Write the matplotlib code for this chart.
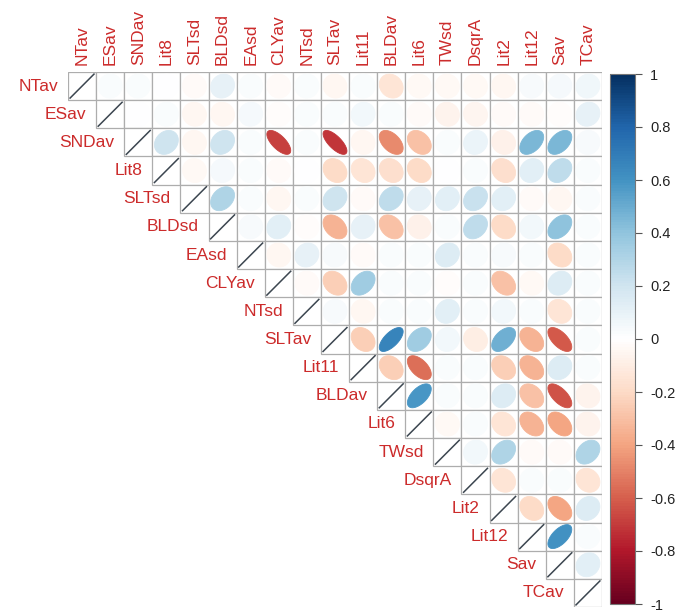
import numpy as np
import matplotlib
matplotlib.use("Agg")
import matplotlib.pyplot as plt
from matplotlib.colors import LinearSegmentedColormap, Normalize
from matplotlib.patches import Polygon
from matplotlib.cm import ScalarMappable

variables = ["NTav", "ESav", "SNDav", "Lit8", "SLTsd", "BLDsd", "EAsd", "CLYav", "NTsd",
             "SLTav", "Lit11", "BLDav", "Lit6", "TWsd", "DsqrA", "Lit2", "Lit12", "Sav", "TCav"]

# upper-triangle correlations, each row lists values right of the diagonal
r_NTav = [0.02, 0.02, 0.0, -0.03, 0.10, 0.02, -0.03, 0.02, -0.05, 0.02, -0.15, -0.04, -0.04, -0.04, -0.05, 0.03, 0.04, 0.06]
r_ESav = [0.0, 0.02, -0.05, -0.05, 0.04, -0.02, 0.02, 0.02, 0.05, 0.02, -0.03, -0.07, -0.06, -0.03, -0.03, -0.02, 0.10]
r_SNDav = [0.20, -0.05, 0.20, 0.02, -0.68, 0.02, -0.72, -0.05, -0.48, -0.30, 0.02, 0.08, -0.08, 0.45, 0.45, 0.03]
r_Lit8 = [-0.04, 0.04, 0.02, -0.03, 0.0, -0.20, -0.15, -0.18, -0.20, 0.0, 0.02, -0.18, 0.12, 0.25, 0.02]
r_SLTsd = [0.30, 0.02, -0.05, 0.02, 0.20, -0.03, 0.25, 0.10, 0.12, 0.22, 0.12, -0.03, -0.05, 0.02]
r_BLDsd = [0.03, 0.12, -0.02, -0.35, 0.10, -0.30, -0.08, 0.02, 0.25, -0.20, 0.05, 0.40, 0.02]
r_EAsd = [-0.05, 0.10, 0.03, -0.03, 0.02, 0.02, 0.15, 0.02, 0.03, 0.02, -0.20, 0.02]
r_CLYav = [-0.03, -0.25, 0.35, 0.02, 0.02, -0.02, 0.02, -0.30, -0.04, 0.15, 0.02]
r_NTsd = [0.03, -0.05, 0.02, 0.02, 0.12, 0.02, 0.05, 0.02, -0.15, 0.02]
r_SLTav = [-0.25, 0.66, 0.35, 0.05, -0.10, 0.48, -0.35, -0.62, 0.02]
r_Lit11 = [-0.25, -0.55, 0.02, 0.02, -0.25, -0.35, 0.15, 0.02]
r_BLDav = [0.58, 0.02, 0.02, 0.15, -0.30, -0.64, -0.07]
r_Lit6 = [-0.04, 0.02, -0.15, -0.35, -0.40, -0.07]
r_TWsd = [0.05, 0.30, -0.03, -0.03, 0.30]
r_DsqrA = [-0.15, 0.02, 0.02, -0.15]
r_Lit2 = [-0.20, -0.40, 0.15]
r_Lit12 = [0.60, 0.02]
r_Sav = [0.12]

rows = [r_NTav, r_ESav, r_SNDav, r_Lit8, r_SLTsd, r_BLDsd, r_EAsd, r_CLYav, r_NTsd,
        r_SLTav, r_Lit11, r_BLDav, r_Lit6, r_TWsd, r_DsqrA, r_Lit2, r_Lit12, r_Sav]

n = len(variables)
corr = np.eye(n)
for i, vals in enumerate(rows):
    for k, v in enumerate(vals):
        j = i + 1 + k
        corr[i, j] = v
        corr[j, i] = v

col2 = ["#67001F", "#B2182B", "#D6604D", "#F4A582", "#FDDBC7", "#FFFFFF",
        "#D1E5F0", "#92C5DE", "#4393C3", "#2166AC", "#053061"]
cmap = LinearSegmentedColormap.from_list("RdBu_corrplot", col2, N=200)
norm = Normalize(-1, 1)

W, H = 680, 613
fig = plt.figure(figsize=(W / 100, H / 100), dpi=100)
left, top = 68, 72
gw, gh = 534, 535
ax = fig.add_axes([left / W, 1 - (top + gh) / H, gw / W, gh / H])
ax.set_xlim(0, n)
ax.set_ylim(n, 0)
ax.axis("off")

grid_col = "#adadad"
label_col = "#CC2B2B"
scale = 0.85
t = np.linspace(0, 2 * np.pi, 99)

for i in range(n):
    for j in range(i, n):
        ax.add_patch(plt.Rectangle((j, i), 1, 1, facecolor="white",
                                   edgecolor=grid_col, lw=0.9, zorder=1))
for i in range(n):
    for j in range(i, n):
        r = corr[i, j]
        cx, cy = j + 0.5, i + 0.5
        if i == j:
            d = 0.5 * scale
            ax.plot([cx - d, cx + d], [cy + d, cy - d], color="#3c4650", lw=1.1, zorder=3)
            continue
        a = np.arccos(np.clip(r, -1, 1))
        ex = np.cos(t + a / 2) / 2 * scale
        ey = np.cos(t - a / 2) / 2 * scale
        c = cmap(norm(r))
        ax.add_patch(Polygon(np.column_stack([cx + ex, cy - ey]), closed=True,
                             facecolor=c, edgecolor=c, lw=0.6, zorder=2))

fam = ["Liberation Sans", "DejaVu Sans"]
for j, name in enumerate(variables):
    ax.text(j + 0.5, -0.25, name, rotation=90, ha="center", va="bottom",
            color=label_col, fontsize=12.5, family=fam, clip_on=False)
for i, name in enumerate(variables):
    ax.text(i - 0.35, i + 0.5, name, ha="right", va="center",
            color=label_col, fontsize=12.5, family=fam, clip_on=False)

cb_top, cb_h = 74, 530
cax = fig.add_axes([610 / W, 1 - (cb_top + cb_h) / H, 25 / W, cb_h / H])
sm = ScalarMappable(norm=norm, cmap=cmap)
cb = fig.colorbar(sm, cax=cax, ticks=np.linspace(-1, 1, 11))
cb.ax.set_yticklabels(["-1", "-0.8", "-0.6", "-0.4", "-0.2", "0", "0.2", "0.4", "0.6", "0.8", "1"])
cb.ax.tick_params(length=5, width=0.8, color="#555555", labelsize=10.5, labelcolor="#222222", pad=6)
for lab in cb.ax.get_yticklabels():
    lab.set_family(fam)
cb.outline.set_edgecolor("#777777")
cb.outline.set_linewidth(0.8)

fig.savefig("out.png", dpi=100)
